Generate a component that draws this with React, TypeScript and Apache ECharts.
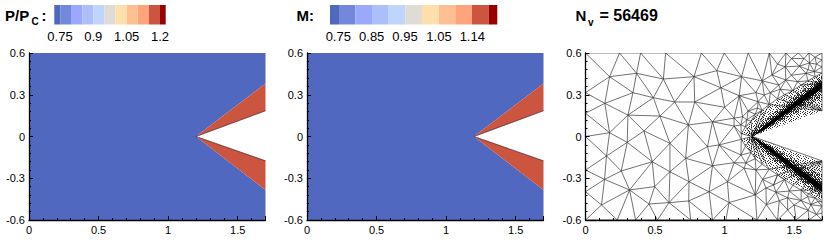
import React, { useEffect, useRef } from "react";
import * as echarts from "echarts";

const FONT = "'Liberation Sans', Arial, sans-serif";
const paletteP = ["#4f69bf", "#7388db", "#9ba8fb", "#adbffb", "#c0d5fc", "#dfdcd6", "#fddfac", "#febf92", "#fea47c", "#cc5540", "#980000"];
const ticksP = ["0.75", "0.9", "1.05", "1.2"];
const ticksM = ["0.75", "0.85", "0.95", "1.05", "1.14"];
const yMin = -0.6, yMax = 0.6, xMin = 0, xMax = 1.7;

const fieldBlue: number[][] = [[0, -0.6], [1.7, -0.6], [1.7, -0.385], [1.2, 0], [1.7, 0.38], [1.7, 0.6], [0, 0.6]];
const wedgeUpper: number[][] = [[1.2, 0], [1.7, 0.38], [1.7, 0.185]];
const wedgeLower: number[][] = [[1.2, 0], [1.7, -0.385], [1.7, -0.175]];
const wallUpper: number[][] = [[1.2, 0], [1.7, 0.185]];
const wallLower: number[][] = [[1.2, 0], [1.7, -0.175]];

// Mesh vertices
const meshBoundary: number[][] = [
  [0, 0.6], [0.245, 0.6], [0.396, 0.6], [0.576, 0.6], [0.833, 0.6], [0.997, 0.6], [1.169, 0.6], [1.321, 0.6], [1.441, 0.6], [1.53, 0.6], [1.607, 0.6], [1.7, 0.6],
  [0, 0.315], [0, 0.167], [0, 0], [0, -0.241], [0, -0.397], [0, -0.6],
  [0.228, -0.6], [0.36, -0.6], [0.517, -0.6], [0.756, -0.6], [0.913, -0.6], [1.009, -0.6], [1.232, -0.6], [1.38, -0.6], [1.513, -0.6], [1.607, -0.6], [1.7, -0.6],
  [1.7, 0.55], [1.7, 0.5], [1.7, -0.5], [1.7, -0.55],
];
const meshInterior: number[][] = [
  [0.173, 0.43], [0.367, 0.454], [0.56, 0.413], [0.78, 0.43], [0.341, 0.315], [0.488, 0.279], [0.641, 0.248], [0.785, 0.248],
  [0.139, 0.238], [0.305, 0.154], [0.535, 0.147], [0.74, 0.083], [0.173, 0.027], [0.42, 0.04],
  [0.944, 0.473], [1.122, 0.43], [1.34, 0.442], [0.973, 0.35], [1.105, 0.293], [1.225, 0.315], [1.436, 0.501], [1.537, 0.506], [1.585, 0.454],
  [1.328, 0.315], [1.169, 0.183], [1.0, 0.21], [0.913, 0.106], [1.068, 0.075], [1.129, 0.142],
  [1.44, 0.406], [1.61, 0.528], [1.645, 0.466], [1.4, 0.34],
  [1.525, 0.394], [1.285, 0.298], [1.237, 0.205], [1.068, 0.132], [1.117, 0.083], [1.16, 0.12], [1.24, 0.25], [1.39, 0.37], [1.48, 0.44], [1.6, 0.48], [1.66, 0.52], [1.65, 0.57], [1.57, 0.56], [1.48, 0.56], [1.38, 0.52], [1.27, 0.4],
  [0.151, -0.14], [0.3, -0.042], [0.257, -0.248], [0.48, -0.181], [0.137, -0.308], [0.317, -0.384], [0.497, -0.36], [0.607, -0.253], [0.607, -0.049],
  [0.72, -0.157], [0.744, -0.325], [0.115, -0.492], [0.456, -0.485], [0.6, -0.475], [0.877, -0.073], [0.888, -0.397], [0.742, -0.463],
  [0.913, -0.21], [1.02, -0.325], [1.14, -0.228], [1.273, -0.308], [1.22, -0.42], [1.032, -0.475], [1.117, -0.133], [0.96, -0.061],
  [1.381, -0.277], [1.352, -0.348], [1.465, -0.392], [1.393, -0.461], [1.5, -0.492], [1.597, -0.432], [1.6, -0.53], [1.3, -0.49],
  [1.153, -0.19], [1.068, -0.188], [1.225, -0.24], [1.453, -0.44], [1.369, -0.4], [1.67, -0.468], [1.62, -0.49], [1.453, -0.528], [1.297, -0.37], [1.55, -0.46], [1.66, -0.56],
];
const meshShockEdge: number[][] = [
  [1.12, 0.02], [1.15, 0.07], [1.19, 0.11], [1.22, 0.16], [1.27, 0.19], [1.32, 0.23], [1.38, 0.27], [1.43, 0.3], [1.49, 0.33], [1.55, 0.37], [1.6, 0.4], [1.65, 0.43], [1.7, 0.456],
  [1.12, -0.02], [1.15, -0.07], [1.19, -0.115], [1.22, -0.16], [1.27, -0.2], [1.32, -0.235], [1.38, -0.275], [1.43, -0.31], [1.49, -0.35], [1.55, -0.385], [1.6, -0.41], [1.65, -0.44], [1.7, -0.47],
  [1.2, 0], [1.7, 0.38], [1.7, 0.185], [1.7, -0.385], [1.7, -0.175],
];

// Shaded bands round the shocks
const bandOuterU: number[][] = [[1.12, 0.02], [1.21, 0.14], [1.43, 0.3], [1.7, 0.456], [1.7, 0.185], [1.2, 0]];
const bandMidU: number[][] = [[1.16, 0.01], [1.3, 0.13], [1.5, 0.29], [1.7, 0.435], [1.7, 0.28], [1.5, 0.16], [1.3, 0.05], [1.2, 0]];
const bandHighU: number[][] = [[1.19, 0.005], [1.3, 0.105], [1.5, 0.265], [1.7, 0.41], [1.7, 0.325], [1.5, 0.185], [1.3, 0.05], [1.2, 0]];
const bandCoreU: number[][] = [[1.198, 0], [1.3, 0.088], [1.5, 0.245], [1.7, 0.395], [1.7, 0.345], [1.5, 0.205], [1.3, 0.06], [1.2, 0]];
const mirror = (p: number[][]) => p.map(([x, y]) => [x, -y * 1.01]);

const ditherLow = ["1000100", "0010001", "1000010", "0100000", "0001001", "1000000", "0010010"];
const ditherMid = ["1010010", "0001001", "1001010", "0100001", "1010100", "0001010", "1000101"];
const ditherHigh = ["1101010", "0110101", "1010010", "0101101", "0100110", "1011010", "0101101"];

function tile(rows: string[]) {
  const c = document.createElement("canvas");
  c.width = c.height = rows.length;
  const g = c.getContext("2d")!;
  g.fillStyle = "rgba(0,0,0,0.8)";
  rows.forEach((r, j) => r.split("").forEach((v, i) => { if (v === "1") g.fillRect(i, j, 1, 1); }));
  return { image: c.toDataURL(), repeat: "repeat", imageWidth: rows.length, imageHeight: rows.length } as any;
}

function delaunay(pts: number[][]) {
  const P = pts.concat([[-20, -20], [20, -20], [0, 30]]);
  const n = pts.length;
  let tris: number[][] = [[n, n + 1, n + 2]];
  const inCirc = (t: number[], p: number[]) => {
    const [a, b, c] = t.map((i) => P[i]);
    const d = 2 * (a[0] * (b[1] - c[1]) + b[0] * (c[1] - a[1]) + c[0] * (a[1] - b[1]));
    if (Math.abs(d) < 1e-12) return true;
    const s = (q: number[]) => q[0] * q[0] + q[1] * q[1];
    const ux = (s(a) * (b[1] - c[1]) + s(b) * (c[1] - a[1]) + s(c) * (a[1] - b[1])) / d;
    const uy = (s(a) * (c[0] - b[0]) + s(b) * (a[0] - c[0]) + s(c) * (b[0] - a[0])) / d;
    return (p[0] - ux) ** 2 + (p[1] - uy) ** 2 < (a[0] - ux) ** 2 + (a[1] - uy) ** 2 - 1e-12;
  };
  pts.forEach((p, k) => {
    const bad = tris.filter((t) => inCirc(t, p));
    const count = new Map<string, number>();
    bad.forEach((t) => [[t[0], t[1]], [t[1], t[2]], [t[2], t[0]]].forEach(([a, b]) => {
      const key = a < b ? a + "_" + b : b + "_" + a;
      count.set(key, (count.get(key) || 0) + 1);
    }));
    tris = tris.filter((t) => !bad.includes(t));
    count.forEach((v, key) => {
      if (v === 1) { const [a, b] = key.split("_").map(Number); tris.push([a, b, k]); }
    });
  });
  const edges = new Set<string>();
  tris.forEach((t) => [[t[0], t[1]], [t[1], t[2]], [t[2], t[0]]].forEach(([a, b]) => {
    if (a < n && b < n) edges.add(a < b ? a + "_" + b : b + "_" + a);
  }));
  return Array.from(edges).map((key) => {
    const [a, b] = key.split("_").map(Number);
    return [P[a][0], P[a][1], P[b][0], P[b][1]];
  }).filter(([x1, y1, x2, y2]) => {
    const mx = (x1 + x2) / 2, my = (y1 + y2) / 2;
    return !(mx > 1.2 && Math.abs(my) < 0.35 * (mx - 1.2));
  });
}

const polygonSeries = (gridIndex: number, pts: number[][], style: any, z = 2) => ({
  type: "custom", coordinateSystem: "cartesian2d", xAxisIndex: gridIndex, yAxisIndex: gridIndex, clip: true, silent: true, z,
  data: [0], encode: { x: [], y: [] },
  renderItem: (_: any, api: any) => ({ type: "polygon", shape: { points: pts.map((p) => api.coord(p)) }, style }),
});

const texts = (items: [string, number, number, number, string, "center" | "left"][]) =>
  items.map(([text, x, y, size, weight, align]) => ({
    type: "text", x, y, style: { text, fontFamily: FONT, fontSize: size, fontWeight: weight, fill: "#000", align, verticalAlign: "middle" },
  }));

function colorbar(x0: number, edges: number[]) {
  return paletteP.map((c, i) => ({
    type: "rect", shape: { x: x0 + edges[i], y: 5, width: edges[i + 1] - edges[i], height: 19.5 }, style: { fill: c },
  }));
}

export default function App() {
  const ref = useRef<HTMLDivElement>(null);
  useEffect(() => {
    const chart = echarts.init(ref.current!, undefined, { renderer: "svg" });
    const lefts = [29, 307, 585.5];
    const axisCommon = {
      z: 6,
      axisLine: { show: true, onZero: false, lineStyle: { color: "#000", width: 1.3 } },
      axisTick: { show: true, inside: true, length: 4, lineStyle: { color: "#000", width: 1 } },
      minorTick: { show: true, splitNumber: 5, length: 2, lineStyle: { color: "#000", width: 1 } },
      splitLine: { show: false },
    };
    const label = { color: "#000", fontFamily: FONT, fontSize: 11, margin: 4, hideOverlap: false };
    const edges = delaunay(meshBoundary.concat(meshInterior, meshShockEdge));
    const low = tile(ditherLow), mid = tile(ditherMid), high = tile(ditherHigh);
    const series: any[] = [];
    [0, 1].forEach((g) => {
      series.push(polygonSeries(g, fieldBlue, { fill: "#5068c0" }));
      series.push(polygonSeries(g, wedgeUpper, { fill: "#cc5540" }));
      series.push(polygonSeries(g, wedgeLower, { fill: "#cc5540" }));
      series.push(polygonSeries(g, wallUpper, { fill: "none", stroke: "#4a2028", lineWidth: 0.4 }, 3));
      series.push(polygonSeries(g, wallLower, { fill: "none", stroke: "#4a2028", lineWidth: 0.4 }, 3));
    });
    series.push({
      type: "custom", coordinateSystem: "cartesian2d", xAxisIndex: 2, yAxisIndex: 2, clip: true, silent: true, z: 2,
      data: edges, encode: { x: [0, 2], y: [1, 3] },
      renderItem: (_: any, api: any) => {
        const a = api.coord([api.value(0), api.value(1)]);
        const b = api.coord([api.value(2), api.value(3)]);
        return { type: "line", shape: { x1: a[0], y1: a[1], x2: b[0], y2: b[1] }, style: { stroke: "#333", lineWidth: 0.7 } };
      },
    });
    series.push(polygonSeries(2, bandOuterU, { fill: low }, 3), polygonSeries(2, bandMidU, { fill: mid }, 3), polygonSeries(2, bandHighU, { fill: high }, 3), polygonSeries(2, bandCoreU, { fill: "#000" }, 3));
    series.push(polygonSeries(2, mirror(bandOuterU), { fill: low }, 3), polygonSeries(2, mirror(bandMidU), { fill: mid }, 3), polygonSeries(2, mirror(bandHighU), { fill: high }, 3), polygonSeries(2, mirror(bandCoreU), { fill: "#000" }, 3));

    chart.setOption({
      animation: false,
      backgroundColor: "#fff",
      grid: lefts.map((left) => ({ left, top: 53, width: 236.5, height: 167 })),
      xAxis: lefts.map((_, i) => ({ ...axisCommon, type: "value", gridIndex: i, min: xMin, max: xMax, interval: 0.5, axisLabel: { ...label, showMaxLabel: false } })),
      yAxis: lefts.map((_, i) => ({ ...axisCommon, type: "value", gridIndex: i, min: yMin, max: yMax, interval: 0.3, axisLabel: { ...label } })),
      series,
      graphic: [
        ...colorbar(54.3, [0, 6, 16.7, 28, 39, 50, 61.2, 72.3, 83.3, 94.5, 105.7, 111.4]),
        ...colorbar(330, [0, 9, 25.3, 42, 58.7, 75.3, 92, 108.7, 125.3, 142, 158.7, 167.3]),
        ...texts([
          ["P/P", 5, 15, 15, "bold", "left"],
          ["C", 31.5, 21, 10, "bold", "left"],
          [":", 41.5, 15, 15, "bold", "left"],
          ["M:", 296.5, 15, 15, "bold", "left"],
          ["N", 575.5, 15, 15, "bold", "left"],
          ["v", 588, 22, 10, "bold", "left"],
          ["= 56469", 599.5, 15, 16, "bold", "left"],
        ]),
        ...ticksP.map((t, i) => texts([[t, [60, 93.3, 126.7, 160][i], 36, 13, "normal", "center"]])[0]),
        ...ticksM.map((t, i) => texts([[t, [338.3, 371.7, 405, 439, 472.3][i], 36, 13, "normal", "center"]])[0]),
      ],
    });
    return () => chart.dispose();
  }, []);
  return <div ref={ref} style={{ position: "absolute", left: 0, top: 0, width: 830, height: 240 }} />;
}
